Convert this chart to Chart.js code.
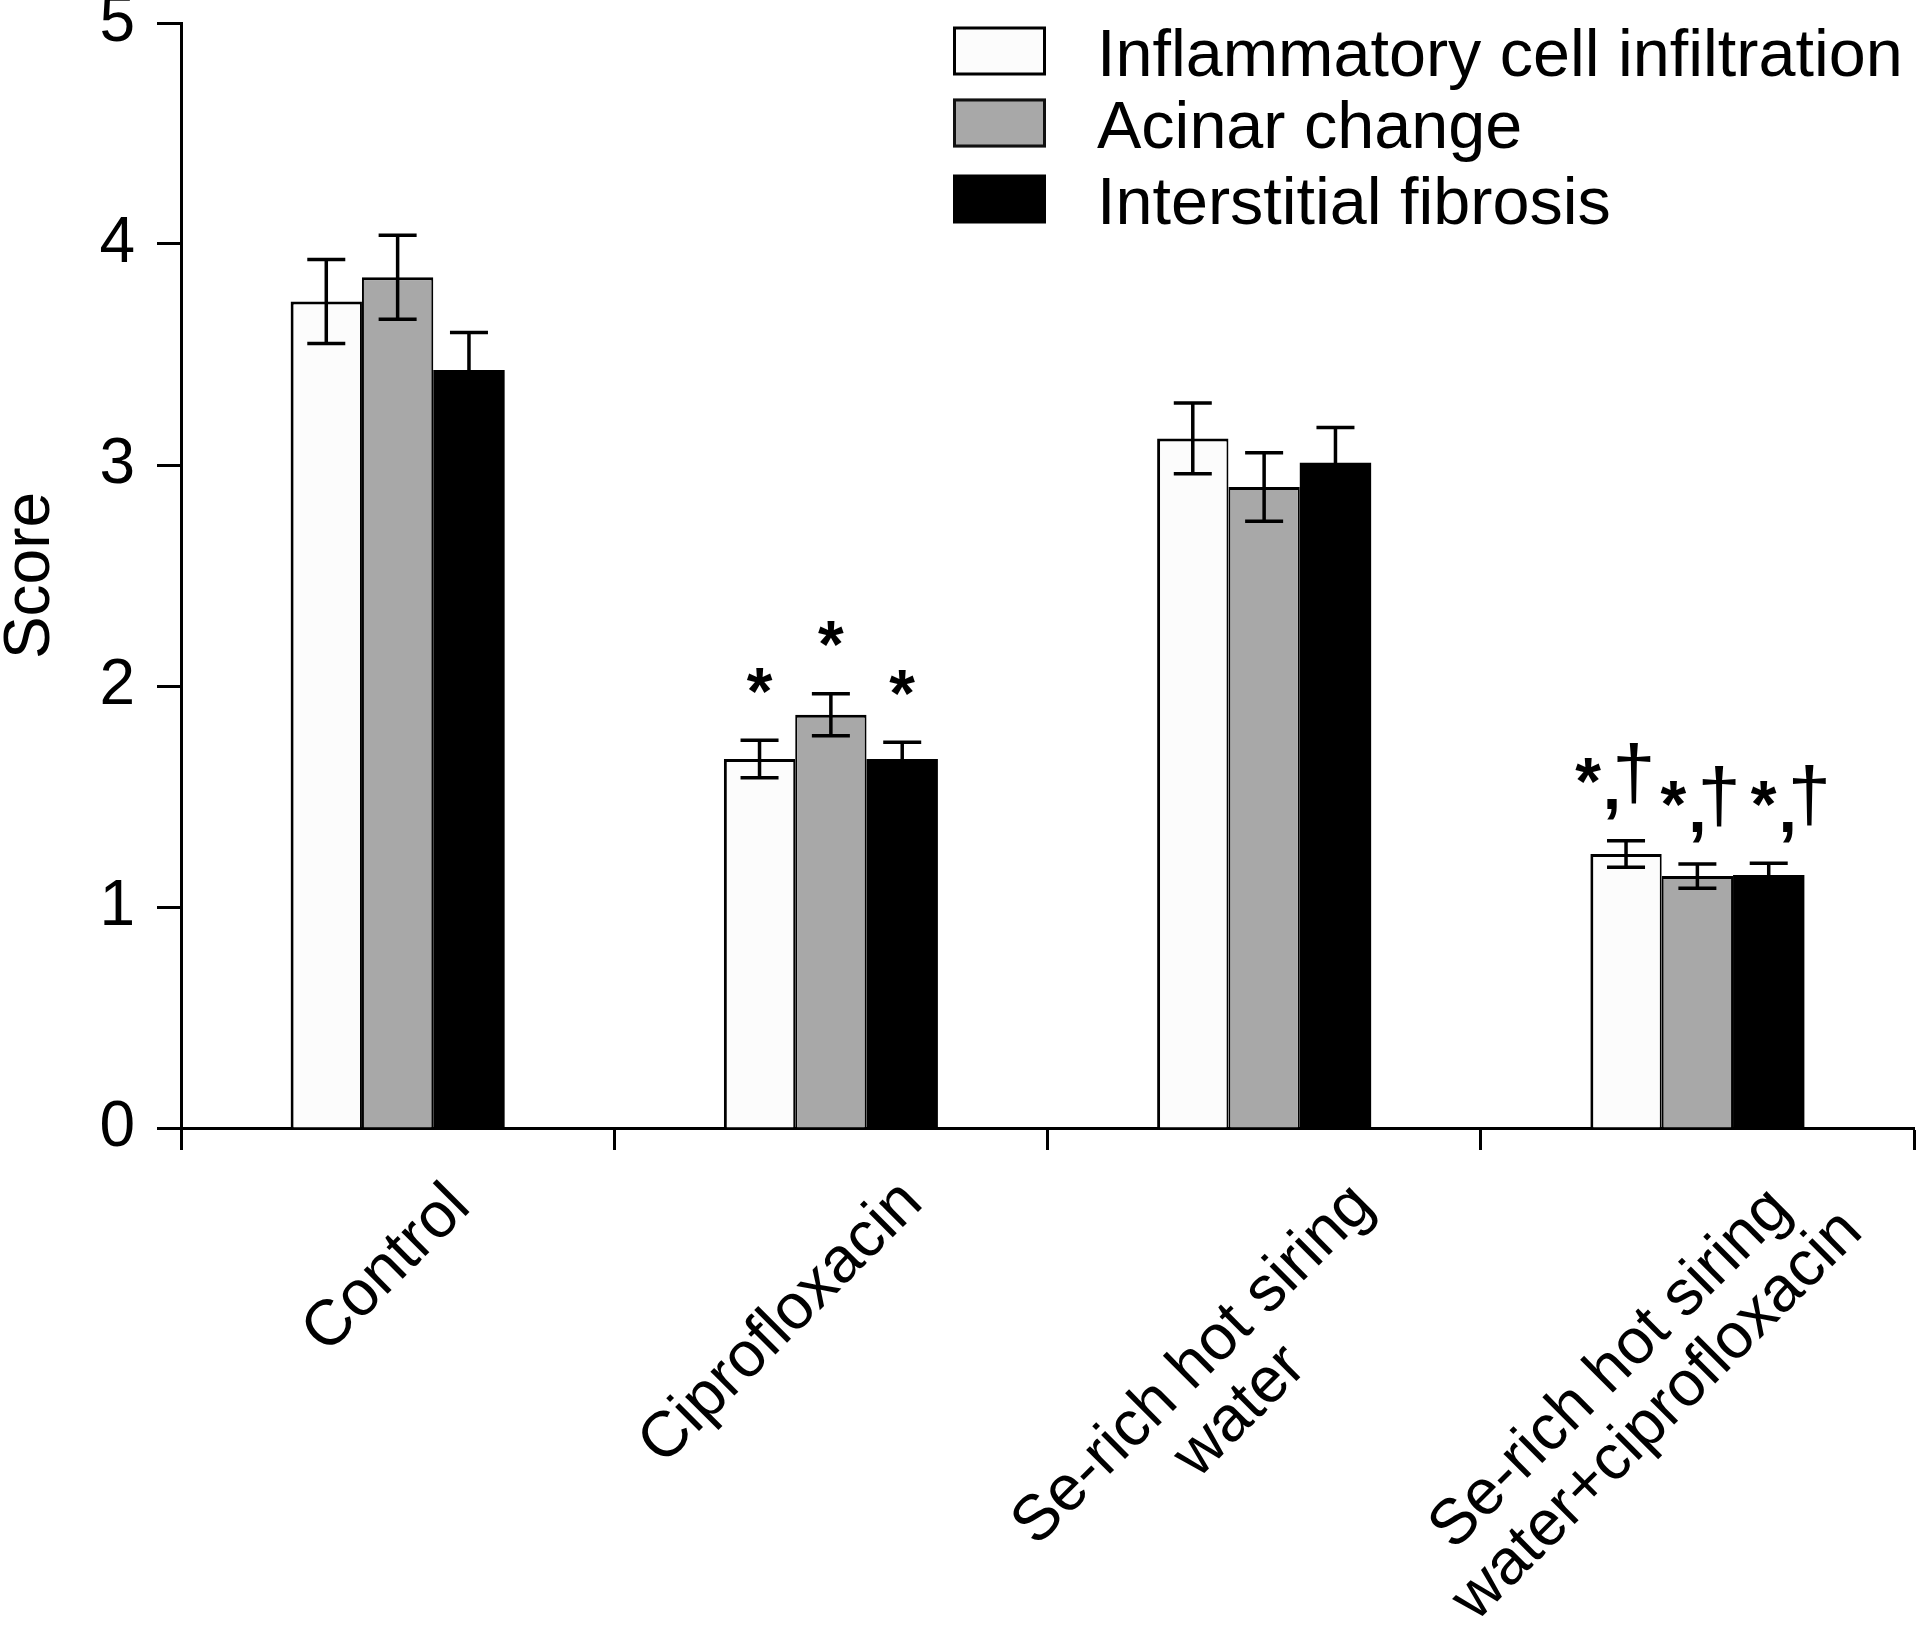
<!DOCTYPE html>
<html><head><meta charset="utf-8">
<script src="https://cdn.jsdelivr.net/npm/chart.js@4.4.1/dist/chart.umd.min.js"></script>
<style>html,body{margin:0;padding:0;background:#fff}#wrap{width:1918px;height:1626px}</style>
</head><body><div id="wrap"><canvas id="c" width="1918" height="1626"></canvas></div>
<script>
// ---- data ----
const categories = [['Control'], ['Ciprofloxacin'], ['Se-rich hot siring', 'water'], ['Se-rich hot siring', 'water+ciprofloxacin']];
const seriesNames = ['Inflammatory cell infiltration', 'Acinar change', 'Interstitial fibrosis'];
const inflammation = [3.74, 1.67, 3.12, 1.24];
const inflammationErr = [0.19, 0.085, 0.16, 0.06];
const acinar = [3.85, 1.87, 2.90, 1.14];
const acinarErr = [0.19, 0.095, 0.155, 0.055];
const fibrosis = [3.43, 1.67, 3.01, 1.145];
const fibrosisErr = [0.17, 0.075, 0.16, 0.053];
const inflammationSig = ['', '*', '', '*,†'];
const acinarSig = ['', '*', '', '*,†'];
const fibrosisSig = ['', '*', '', '*,†'];
const yTicks = [0, 1, 2, 3, 4, 5];

// ---- style ----
const FONT = '"Liberation Sans", Arial, Helvetica, sans-serif';
const COLORS = ['#fcfcfc', '#a8a8a8', '#000000'];
const LABEL_END_DX = [75, 94, 112, 96];
const LABEL_END_Y = [1209, 1205, 1208, 1212];
const SIG_DX = [-14, 0, 19];

function glyph(ctx, ch, cx, cy, font) {
  ctx.font = font;
  ctx.textAlign = 'center';
  ctx.textBaseline = 'alphabetic';
  const m = ctx.measureText(ch);
  const base = cy + (m.actualBoundingBoxAscent - m.actualBoundingBoxDescent) / 2;
  ctx.fillText(ch, cx, base);
}
// draw a glyph scaled to a w x h box centred at (cx, cy)
function glyphFit(ctx, ch, cx, cy, w, h, font) {
  ctx.save();
  ctx.font = font;
  ctx.textAlign = 'left';
  ctx.textBaseline = 'alphabetic';
  const m = ctx.measureText(ch);
  const gw = m.actualBoundingBoxLeft + m.actualBoundingBoxRight;
  const gh = m.actualBoundingBoxAscent + m.actualBoundingBoxDescent;
  ctx.translate(cx, cy);
  ctx.scale(w / gw, h / gh);
  ctx.fillText(ch, -gw / 2 + m.actualBoundingBoxLeft, gh / 2 - m.actualBoundingBoxDescent);
  ctx.restore();
}

const deco = {
  id: 'deco',
  afterDatasetsDraw(chart) {
    const ctx = chart.ctx, y = chart.scales.y;
    chart.data.datasets.forEach((ds, di) => {
      const meta = chart.getDatasetMeta(di);
      meta.data.forEach((bar, i) => {
        const v = ds.data[i], e = ds.errors[i];
        const yt = y.getPixelForValue(v + e), yb = y.getPixelForValue(v - e);
        ctx.save();
        ctx.strokeStyle = '#000';
        ctx.lineWidth = 3.5;
        ctx.beginPath();
        ctx.moveTo(bar.x, yt); ctx.lineTo(bar.x, yb);
        ctx.moveTo(bar.x - 19, yt); ctx.lineTo(bar.x + 19, yt);
        ctx.moveTo(bar.x - 19, yb); ctx.lineTo(bar.x + 19, yb);
        ctx.stroke();
        ctx.fillStyle = '#000';
        const s = ds.sig[i];
        if (s === '*') {
          glyph(ctx, '*', bar.x, yt - 60, 'bold 66px ' + FONT);
        } else if (s) {
          const sy = yt - 70, sx = bar.x + SIG_DX[di];
          glyph(ctx, '*', sx - 24, sy, 'bold 66px ' + FONT);
          glyph(ctx, ',', sx, sy + 39, 'bold 66px ' + FONT);
          glyphFit(ctx, '†', sx + 22, sy + 2, 34, 62, '64px ' + FONT);
        }
        ctx.restore();
      });
    });
  },
  afterDraw(chart) {
    const ctx = chart.ctx, xs = chart.scales.x;
    ctx.save();
    ctx.fillStyle = '#000';
    // category labels
    categories.forEach((lines, i) => {
      const cx = xs.getPixelForValue(i);
      ctx.save();
      ctx.translate(cx + LABEL_END_DX[i], LABEL_END_Y[i]);
      ctx.rotate(-Math.PI / 4);
      ctx.font = '64px ' + FONT;
      ctx.textAlign = 'center';
      ctx.textBaseline = 'alphabetic';
      const w1 = ctx.measureText(lines[0]).width;
      lines.forEach((t, k) => ctx.fillText(t, -w1 / 2, k * 66));
      ctx.restore();
    });
    // y title
    ctx.save();
    ctx.font = '64px ' + FONT;
    const m = ctx.measureText('Score');
    ctx.translate(26.5, (chart.chartArea.top + chart.chartArea.bottom) / 2);
    ctx.rotate(-Math.PI / 2);
    ctx.textAlign = 'center';
    ctx.textBaseline = 'alphabetic';
    ctx.fillText('Score', 0, (m.actualBoundingBoxAscent - m.actualBoundingBoxDescent) / 2);
    ctx.restore();
    // legend
    const rows = [51, 123, 199];
    seriesNames.forEach((name, i) => {
      const cy = rows[i];
      const bx = 953, bw = 93, bh = 49, by = cy - bh / 2;
      ctx.fillStyle = COLORS[i];
      ctx.fillRect(bx, by, bw, bh);
      if (i < 2) {
        ctx.strokeStyle = i === 0 ? '#000' : '#111';
        ctx.lineWidth = 3;
        ctx.strokeRect(bx + 1.5, by + 1.5, bw - 3, bh - 3);
      }
      ctx.fillStyle = '#000';
      ctx.font = '66.5px ' + FONT;
      ctx.textAlign = 'left';
      ctx.textBaseline = 'alphabetic';
      ctx.fillText(name, 1097, by + bh);
    });
    ctx.restore();
  }
};

const ctx = document.getElementById('c').getContext('2d');
new Chart(ctx, {
  type: 'bar',
  data: {
    labels: categories.map(l => l.join(' ')),
    datasets: [
      { label: seriesNames[0], data: inflammation, errors: inflammationErr, sig: inflammationSig,
        backgroundColor: COLORS[0], borderColor: '#000', borderWidth: { top: 3, left: 3, right: 2, bottom: 0 }, borderSkipped: 'bottom' },
      { label: seriesNames[1], data: acinar, errors: acinarErr, sig: acinarSig,
        backgroundColor: COLORS[1], borderColor: '#000', borderWidth: { top: 3, left: 2, right: 2, bottom: 0 }, borderSkipped: 'bottom' },
      { label: seriesNames[2], data: fibrosis, errors: fibrosisErr, sig: fibrosisSig,
        backgroundColor: COLORS[2], borderColor: '#000', borderWidth: 0 }
    ]
  },
  options: {
    responsive: false,
    animation: false,
    events: [],
    layout: { padding: { top: 23, right: 4, left: 0, bottom: 0 } },
    datasets: { bar: { categoryPercentage: 0.494, barPercentage: 1.0 } },
    plugins: { legend: { display: false }, tooltip: { enabled: false } },
    scales: {
      x: {
        z: 1,
        offset: true,
        grid: { display: true, offset: true, drawOnChartArea: false, drawTicks: true, tickLength: 22, tickWidth: 3, color: '#000' },
        border: { display: true, color: '#000', width: 3 },
        ticks: { display: false },
        afterFit(s) { s.height = 498; s.paddingLeft = 0; s.paddingRight = 0; }
      },
      y: {
        min: 0, max: 5,
        afterBuildTicks(s) { s.ticks = yTicks.map(v => ({ value: v })); },
        ticks: { font: { size: 64, family: FONT }, color: '#000', padding: 22 },
        grid: { display: true, drawOnChartArea: false, drawTicks: true, tickLength: 24, tickWidth: 3, color: '#000' },
        border: { display: true, color: '#000', width: 3 },
        afterFit(s) { s.width = 181; s.paddingTop = 0; s.paddingBottom = 0; }
      }
    }
  },
  plugins: [deco]
});
</script></body></html>
